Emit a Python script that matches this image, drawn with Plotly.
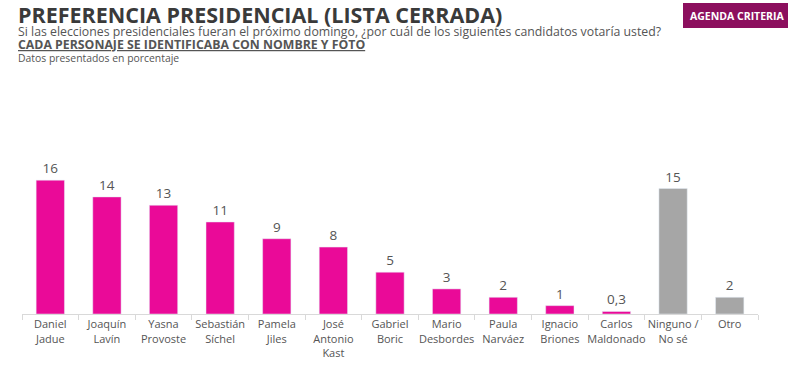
import plotly.graph_objects as go

categories = ["Daniel<br>Jadue", "Joaquín<br>Lavín", "Yasna<br>Provoste", "Sebastián<br>Síchel",
              "Pamela<br>Jiles", "José<br>Antonio<br>Kast", "Gabriel<br>Boric", "Mario<br>Desbordes",
              "Paula<br>Narváez", "Ignacio<br>Briones", "Carlos<br>Maldonado", "Ninguno /<br>No sé", "Otro"]
values = [16, 14, 13, 11, 9, 8, 5, 3, 2, 1, 0.3, 15, 2]
labels = ["16", "14", "13", "11", "9", "8", "5", "3", "2", "1", "0,3", "15", "2"]
is_candidate = [True] * 11 + [False] * 2

MAGENTA = "#EA0A98"
GRAY = "#A6A6A6"
colors = [MAGENTA if c else GRAY for c in is_candidate]

W, H = 788, 377
L, R, T, B = 22, 30, 158, 63
PW, PH = W - L - R, H - T - B

def px(x):
    return (x - L) / PW

def py(y):
    return 1 - (y - T) / PH

fig = go.Figure(go.Bar(
    x=categories, y=values, marker_color=colors, text=labels,
    textposition="outside", cliponaxis=False,
    textfont=dict(family="Open Sans", size=13.5, color="#555555"),
    width=0.5,
))

fig.update_layout(
    width=W, height=H, margin=dict(l=L, r=R, t=T, b=B, autoexpand=False),
    paper_bgcolor="white", plot_bgcolor="white", showlegend=False,
    xaxis=dict(showline=True, linecolor="#D9D9D9", linewidth=1, ticks="outside",
               tickson="boundaries", ticklen=5, tickcolor="#D9D9D9", tickangle=0,
               automargin=False,
               tickfont=dict(family="Open Sans", size=11, color="#555555"),
               showgrid=False),
    yaxis=dict(visible=False, range=[0, 18.65], automargin=False),
)

ann = [
    dict(text="<b>PREFERENCIA PRESIDENCIAL (LISTA CERRADA)</b>", x=px(17), y=py(14),
         font=dict(family="Open Sans", size=21.5, color="#3A3A3A")),
    dict(text="Si las elecciones presidenciales fueran el próximo domingo, ¿por cuál de los siguientes candidatos votaría usted?",
         x=px(17), y=py(31), font=dict(family="Open Sans", size=12.3, color="#555555")),
    dict(text="<b><u>CADA PERSONAJE SE IDENTIFICABA CON NOMBRE Y FOTO</u></b>",
         x=px(17), y=py(45), font=dict(family="Open Sans", size=12.3, color="#555555")),
    dict(text="Datos presentados en porcentaje", x=px(17), y=py(57.5),
         font=dict(family="Open Sans", size=10.4, color="#555555")),
]
for a in ann:
    fig.add_annotation(xref="paper", yref="paper", xanchor="left", yanchor="middle",
                       showarrow=False, borderpad=0, **a)

fig.add_shape(type="rect", xref="paper", yref="paper", x0=px(683), x1=px(788),
              y0=py(28), y1=py(3), fillcolor="#8C0F5E", line_width=0, layer="below")
fig.add_annotation(xref="paper", yref="paper", x=px(737), y=py(15.5), showarrow=False,
                   xanchor="center", yanchor="middle",
                   text="<b>AGENDA CRITERIA</b>",
                   font=dict(family="Open Sans", size=10.5, color="white"))

fig.write_html("out.html", config={"displayModeBar": False},
               post_script="document.body.style.margin='0';")
